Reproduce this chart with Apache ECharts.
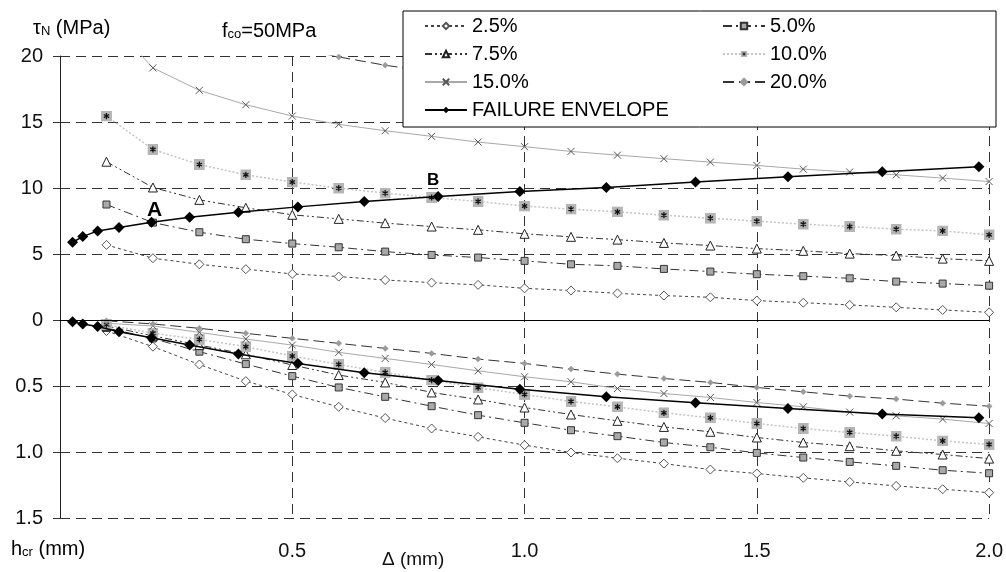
<!DOCTYPE html>
<html>
<head>
<meta charset="utf-8">
<script src="https://cdn.jsdelivr.net/npm/echarts@6/dist/echarts.min.js"></script>
<style>html,body{margin:0;padding:0;background:#fff;}#c{width:1006px;height:572px;}</style>
</head>
<body>
<div id="c"></div>
<script>
// ---- data ----
const deltas = [0.1,0.2,0.3,0.4,0.5,0.6,0.7,0.8,0.9,1.0,1.1,1.2,1.3,1.4,1.5,1.6,1.7,1.8,1.9,2.0];
const seriesNames = ['2.5%','5.0%','7.5%','10.0%','15.0%','20.0%'];
// tau_N (MPa), upper half
const tau2_5 = [5.69,4.68,4.22,3.85,3.49,3.29,3.03,2.83,2.66,2.40,2.23,2.02,1.85,1.72,1.47,1.31,1.14,0.96,0.76,0.58];
const tau5_0 = [8.75,7.38,6.65,6.12,5.79,5.51,5.18,4.93,4.73,4.48,4.22,4.10,3.87,3.67,3.47,3.32,3.16,2.91,2.76,2.60];
const tau7_5 = [11.99,10.04,9.10,8.50,7.97,7.66,7.34,7.08,6.83,6.53,6.30,6.09,5.84,5.64,5.41,5.24,5.03,4.88,4.65,4.48];
const tau10_0 = [15.45,12.92,11.78,11.00,10.45,9.99,9.61,9.28,8.98,8.63,8.40,8.19,7.94,7.71,7.49,7.26,7.08,6.88,6.75,6.45];
const tau15_0 = [22.9,19.1,17.4,16.31,15.45,14.82,14.34,13.91,13.48,13.13,12.77,12.49,12.22,11.96,11.71,11.43,11.21,11.00,10.75,10.49];
const tau20_0 = [null,null,null,null,20.65,19.93,19.30,18.80,18.35,17.95,17.60,17.30,17.00,16.70,16.45,16.20,15.95,15.75,15.55,15.35];
// h_cr (mm), lower half
const hcr2_5 = [0.083,0.202,0.337,0.463,0.564,0.658,0.743,0.822,0.885,0.948,1.004,1.047,1.088,1.133,1.163,1.196,1.227,1.257,1.282,1.308];
const hcr5_0 = [0.060,0.140,0.240,0.334,0.425,0.511,0.582,0.653,0.721,0.779,0.835,0.880,0.928,0.964,1.007,1.042,1.075,1.105,1.138,1.161];
const hcr7_5 = [0.045,0.120,0.190,0.260,0.341,0.417,0.473,0.549,0.602,0.663,0.716,0.764,0.810,0.847,0.890,0.928,0.956,0.991,1.019,1.050];
const hcr10_0 = [0.035,0.100,0.147,0.202,0.273,0.337,0.397,0.455,0.513,0.564,0.617,0.658,0.703,0.741,0.784,0.822,0.852,0.880,0.916,0.943];
const hcr15_0 = [0.025,0.045,0.094,0.144,0.190,0.245,0.291,0.337,0.385,0.430,0.468,0.519,0.557,0.587,0.625,0.658,0.698,0.726,0.751,0.784];
const hcr20_0 = [0.006,0.030,0.063,0.101,0.139,0.177,0.215,0.253,0.296,0.329,0.372,0.410,0.443,0.473,0.511,0.544,0.577,0.599,0.630,0.653];
// failure envelope
const envName = 'FAILURE ENVELOPE';
const envDelta = [0.027,0.049,0.081,0.127,0.197,0.279,0.384,0.512,0.655,0.814,0.990,1.176,1.368,1.567,1.770,1.978];
const envTau = [5.89,6.32,6.75,7.00,7.41,7.79,8.17,8.57,8.98,9.36,9.74,10.04,10.45,10.85,11.23,11.61];
const envHcr = [0.013,0.030,0.050,0.089,0.134,0.190,0.258,0.329,0.400,0.458,0.524,0.582,0.627,0.670,0.713,0.741];
const yTicks = [-15,-10,-5,0,5,10,15,20];
const xTicks = [0.5,1.0,1.5,2.0];

const tauSets = [tau2_5,tau5_0,tau7_5,tau10_0,tau15_0,tau20_0];
const hcrSets = [hcr2_5,hcr5_0,hcr7_5,hcr10_0,hcr15_0,hcr20_0];

// ---- styles ----
const FONT = "'Liberation Sans', Arial, Helvetica, sans-serif";
const starSvg = "<svg xmlns='http://www.w3.org/2000/svg' width='12' height='12' viewBox='0 0 12 12'><rect width='12' height='12' fill='#b5b5b5'/><path d='M6 2.6V9.4M3.1 4.3L8.9 7.7M8.9 4.3L3.1 7.7' stroke='#111' stroke-width='1.4'/></svg>";
const starSymbol = 'image://data:image/svg+xml;charset=utf-8,' + encodeURIComponent(starSvg);
const styles = [
  {symbol:'diamond', size:9, item:{color:'#ffffff', borderColor:'#555', borderWidth:1}, line:{color:'#444', width:1, type:[3,3]}},
  {symbol:'rect', size:7, item:{color:'#a9a9a9', borderColor:'#333', borderWidth:1}, line:{color:'#333', width:1, type:[9,4,2,4]}},
  {symbol:'triangle', size:9, item:{color:'#ffffff', borderColor:'#222', borderWidth:1}, line:{color:'#333', width:1, type:[7,3,2,3,2,3]}},
  {symbol:starSymbol, size:11, item:{color:'#b5b5b5'}, line:{color:'#c4c4c4', width:1.5, type:[2,2]}},
  {symbol:'path://M0,0L10,10M10,0L0,10', size:7, item:{color:'rgba(0,0,0,0)', borderColor:'#555', borderWidth:1}, line:{color:'#a8a8a8', width:1, type:'solid'}},
  {symbol:'diamond', size:6, item:{color:'#9a9a9a', borderColor:'#9a9a9a', borderWidth:0.5}, line:{color:'#333', width:1, type:[11,5]}}
];

function mkSeries(name, data, st, z) {
  return {
    type:'line', name:name, data:data, symbol:st.symbol, symbolSize:st.size,
    showAllSymbol:true, itemStyle:st.item, lineStyle:st.line, z:z,
    emphasis:{disabled:true}, clip:true, animation:false
  };
}

const series = [];
seriesNames.forEach((n,k) => {
  const up = deltas.map((d,i) => [d, tauSets[k][i]]).filter(p => p[1] !== null);
  const lo = deltas.map((d,i) => [d, -hcrSets[k][i] * 10]);
  series.push(mkSeries(n, up, styles[k], 3));
  series.push(mkSeries(n, lo, styles[k], 3));
});
const envStyle = {symbol:'diamond', size:11, item:{color:'#000'}, line:{color:'#000', width:1.5, type:'solid'}};
const envUp = mkSeries(envName, envDelta.map((d,i)=>[d, envTau[i]]), envStyle, 5);
envUp.markPoint = {
  symbol:'circle', symbolSize:1, itemStyle:{color:'rgba(0,0,0,0)'}, silent:true, animation:false,
  label:{show:true, position:'inside', color:'#000', fontFamily:FONT, fontWeight:'bold'},
  data:[
    {coord:[envDelta[4], envTau[4]], label:{formatter:'A', offset:[3,-12], fontSize:21}},
    {coord:[envDelta[9], envTau[9]], label:{formatter:'B', offset:[-5,-16], fontSize:17}}
  ]
};
const envLo = mkSeries(envName, envDelta.map((d,i)=>[d, -envHcr[i]*10]), envStyle, 5);
envLo.markLine = {
  silent:true, symbol:'none', animation:false, label:{show:false},
  lineStyle:{color:'#000', width:1, type:'solid'},
  data:[{yAxis:0}]
};
series.push(envUp, envLo);

const rich = {
  t:{fontSize:20, fontFamily:FONT, color:'#111', lineHeight:22, verticalAlign:'bottom'},
  s:{fontSize:13, fontFamily:FONT, color:'#111', lineHeight:13, verticalAlign:'bottom'}
};

const legendBase = {
  orient:'vertical', top:16, padding:0, itemGap:8, itemWidth:42, itemHeight:8,
  selectedMode:false, z:200,
  textStyle:{fontSize:20, lineHeight:20, color:'#000', fontFamily:FONT}
};

const option = {
  animation:false,
  backgroundColor:'#fff',
  textStyle:{fontFamily:FONT},
  grid:{left:60, right:15, top:56, bottom:54, containLabel:false},
  xAxis:{
    type:'value', min:0, max:2, interval:0.5,
    axisLine:{show:false, onZero:false}, axisTick:{show:false},
    axisLabel:{fontSize:20, color:'#111', margin:23, fontFamily:FONT,
      formatter:v => (xTicks.indexOf(v) >= 0 ? v.toFixed(1) : '')},
    splitLine:{show:true, lineStyle:{color:'#333', width:1, type:[10,6]}}
  },
  yAxis:{
    type:'value', min:-15, max:20, interval:5,
    axisLine:{show:true, onZero:false, lineStyle:{color:'#222', width:1}},
    axisTick:{show:true, length:7, lineStyle:{color:'#333'}},
    axisLabel:{fontSize:20, color:'#111', margin:17, fontFamily:FONT,
      formatter:v => (yTicks.indexOf(v) < 0 ? '' : (v >= 0 ? String(v) : (-v/10).toFixed(1)))},
    splitLine:{show:true, lineStyle:{color:'#333', width:1, type:[10,6]}}
  },
  legend:[
    Object.assign({}, legendBase, {left:424, data:['2.5%','7.5%','15.0%',envName]}),
    Object.assign({}, legendBase, {left:722, data:['5.0%','10.0%','20.0%']})
  ],
  graphic:{elements:[
    {type:'rect', z:100, zlevel:0, shape:{x:403, y:11, width:593, height:116},
     style:{fill:'#fff', stroke:'#000', lineWidth:1}, silent:true},
    {type:'text', x:33, y:38, z:100, style:{text:'{t|τ}{s|N}{t| (MPa)}', rich:rich, verticalAlign:'bottom', align:'left'}},
    {type:'text', x:222, y:41, z:100, style:{text:'{t|f}{s|co}{t|=50MPa}', rich:rich, verticalAlign:'bottom', align:'left'}},
    {type:'text', x:11, y:559, z:100, style:{text:'{t|h}{s|cr}{t| (mm)}', rich:rich, verticalAlign:'bottom', align:'left'}},
    {type:'text', x:382, y:569, z:100, style:{text:'Δ (mm)', font:"19px 'Liberation Sans', Arial, sans-serif", fill:'#111', verticalAlign:'bottom', align:'left'}}
  ]},
  series:series
};

const chart = echarts.init(document.getElementById('c'), null, {renderer:'canvas'});
chart.setOption(option);
</script>
</body>
</html>
